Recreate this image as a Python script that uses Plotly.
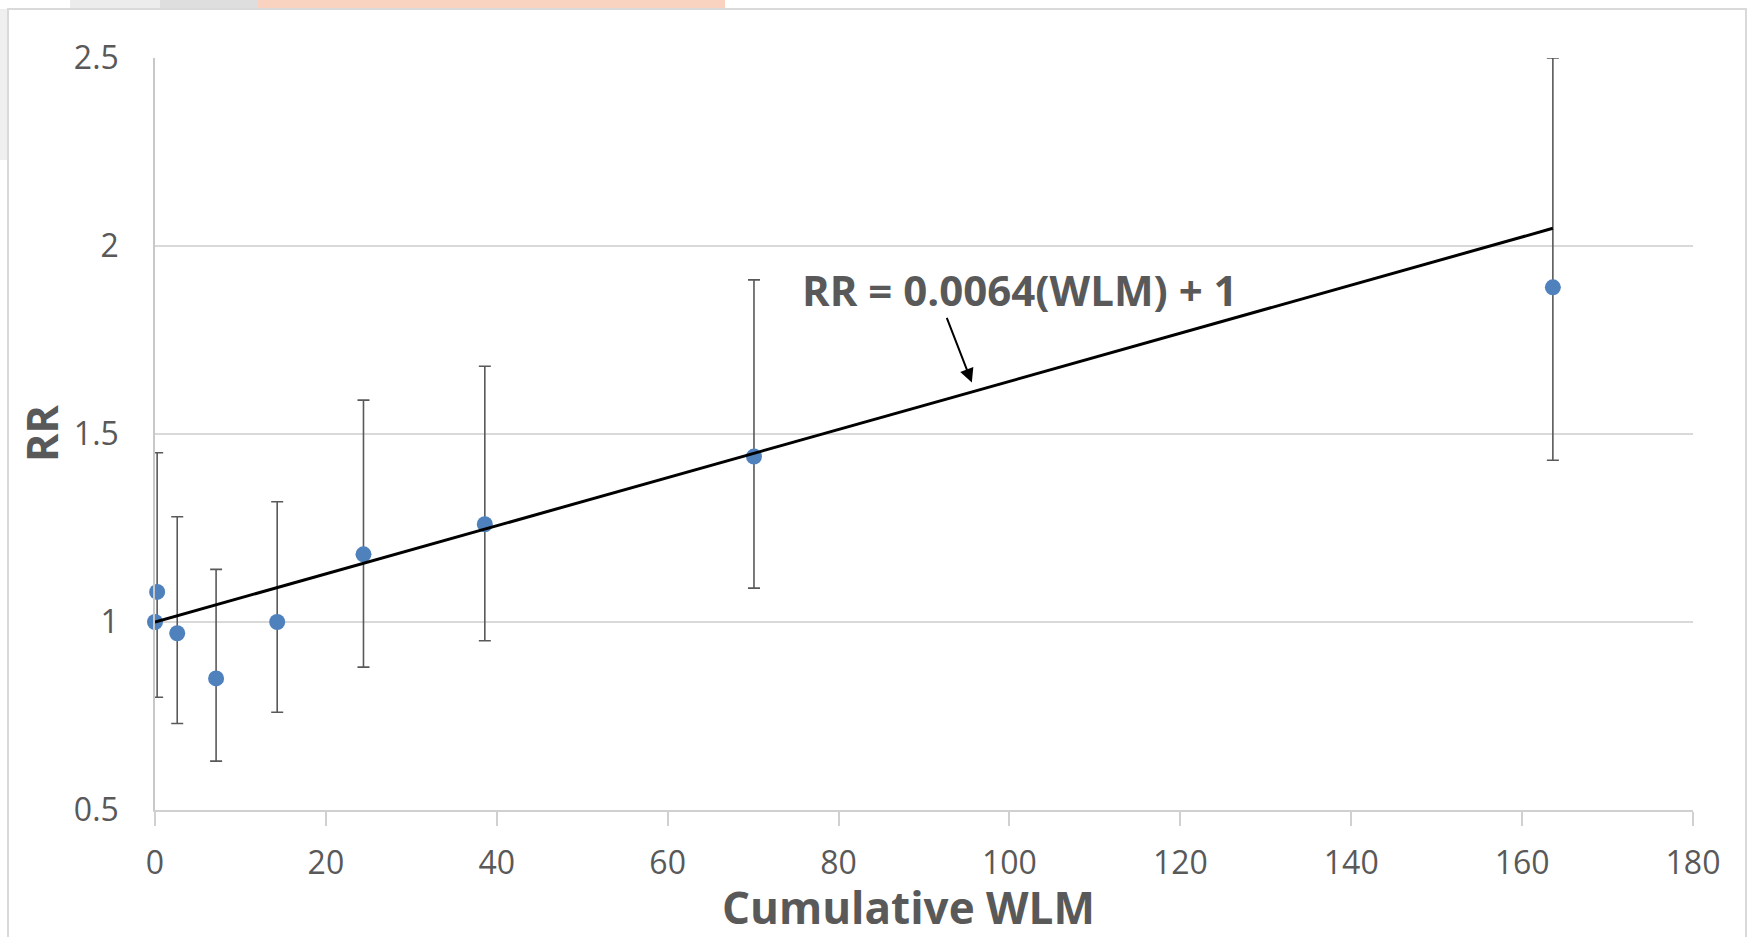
import plotly.graph_objects as go

# ---- data ----
wlm = [0, 0.25, 2.6, 7.15, 14.3, 24.4, 38.6, 70.1, 163.6]
rr = [1.00, 1.08, 0.97, 0.85, 1.00, 1.18, 1.26, 1.44, 1.89]
rr_low = [1.00, 0.80, 0.73, 0.63, 0.76, 0.88, 0.95, 1.09, 1.43]
rr_high = [1.00, 1.45, 1.28, 1.14, 1.32, 1.59, 1.68, 1.91, 2.50]
slope = 0.0064
intercept = 1.0
x_ticks = [0, 20, 40, 60, 80, 100, 120, 140, 160, 180]
y_ticks = [0.5, 1, 1.5, 2, 2.5]
y_tick_labels = ["0.5", "1", "1.5", "2", "2.5"]
equation_text = "RR = 0.0064(WLM) + 1"

err_plus = [h - v for h, v in zip(rr_high, rr)]
err_minus = [v - l for v, l in zip(rr, rr_low)]
trend_x = [min(wlm), max(wlm)]
trend_y = [slope * x + intercept for x in trend_x]

FONT = "Open Sans"
GREY = "#595959"

fig = go.Figure()
fig.add_trace(go.Scatter(
    x=wlm, y=rr, mode="markers",
    marker=dict(color="#4f81bd", size=16),
    error_y=dict(type="data", symmetric=False, array=err_plus, arrayminus=err_minus,
                 color="#595959", thickness=1.6, width=6),
    showlegend=False, cliponaxis=False,
))
fig.add_trace(go.Scatter(
    x=trend_x, y=trend_y, mode="lines",
    line=dict(color="black", width=3), showlegend=False,
))

# body margin is removed by the post script, so figure coords = page coords
W, H = 1750, 937
L, T = 155, 58
R = W - 1693
B = H - 810
pw, ph = W - L - R, H - T - B


def px(xp):
    return (xp - L) / pw


def py(yp):
    return (H - B - yp) / ph


shapes = [
    # outer chart frame
    dict(type="rect", xref="paper", yref="paper", x0=px(8), x1=px(1746), y0=py(960), y1=py(9),
         line=dict(color="#d9d9d9", width=2), fillcolor="rgba(0,0,0,0)", layer="below"),
    # decorative background bits at top
    dict(type="rect", xref="paper", yref="paper", x0=px(70), x1=px(160), y0=py(8), y1=py(0),
         line=dict(width=0), fillcolor="#ececec", layer="below"),
    dict(type="rect", xref="paper", yref="paper", x0=px(160), x1=px(258), y0=py(8), y1=py(0),
         line=dict(width=0), fillcolor="#dedede", layer="below"),
    dict(type="rect", xref="paper", yref="paper", x0=px(258), x1=px(725), y0=py(8), y1=py(0),
         line=dict(width=0), fillcolor="#f9d2c0", layer="below"),
    dict(type="rect", xref="paper", yref="paper", x0=px(0), x1=px(7), y0=py(160), y1=py(9),
         line=dict(width=0), fillcolor="#efefef", layer="below"),
]

fig.update_layout(
    width=W, height=H,
    margin=dict(l=L, r=R, t=T, b=B),
    paper_bgcolor="white", plot_bgcolor="white",
    font=dict(family=FONT, color=GREY),
    shapes=shapes,
    xaxis=dict(
        range=[0, 180], tickvals=x_ticks, showgrid=False, zeroline=False,
        showline=True, linecolor="#d0d0d0", linewidth=1.5,
        ticks="outside", ticklen=14, tickcolor="#d0d0d0", tickwidth=1.5,
        tickfont=dict(family=FONT, size=32, color=GREY), ticklabelstandoff=10,
    ),
    yaxis=dict(
        range=[0.5, 2.5], tickvals=y_ticks, ticktext=y_tick_labels,
        showgrid=True, gridcolor="#d9d9d9", gridwidth=1.5, zeroline=False,
        showline=True, linecolor="#c8c8c8", linewidth=1.5,
        tickfont=dict(family=FONT, size=32, color=GREY), ticklabelstandoff=28,
    ),
    annotations=[
        dict(text="<b>Cumulative WLM</b>", xref="paper", yref="paper", x=px(908), y=py(907),
             showarrow=False, font=dict(family=FONT, size=44, color=GREY),
             xanchor="center", yanchor="middle"),
        dict(text="<b>RR</b>", xref="paper", yref="paper", x=px(41), y=0.5, textangle=-90,
             showarrow=False, font=dict(family=FONT, size=43, color=GREY),
             xanchor="center", yanchor="middle"),
        dict(text="<b>" + equation_text + "</b>", x=101.2, y=1.885, xref="x", yref="y",
             showarrow=False, font=dict(family=FONT, size=42, color=GREY),
             xanchor="center", yanchor="middle"),
        dict(text="", x=95.6, y=1.637, xref="x", yref="y", ax=92.6, ay=1.813,
             axref="x", ayref="y", showarrow=True, arrowhead=2, arrowsize=1.4,
             arrowwidth=2, arrowcolor="black"),
    ],
)

fig.write_html("out.html", config={"displayModeBar": False},
               post_script="document.body.style.margin='0';")
